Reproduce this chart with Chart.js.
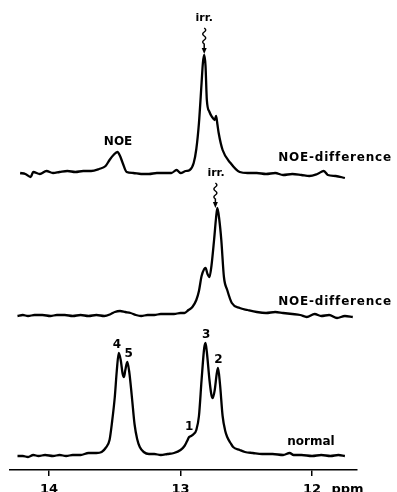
<!DOCTYPE html>
<html>
<head>
<meta charset="utf-8">
<script src="https://cdn.jsdelivr.net/npm/chart.js@4.4.0/dist/chart.umd.min.js"></script>
<style>
  html, body { margin: 0; padding: 0; background: #fff; overflow: hidden; }
  #wrap { width: 397px; height: 492px; }
</style>
</head>
<body>
<div id="wrap"><canvas id="chart"></canvas></div>
<script>
// chemical shift axis (ppm)
const tickValues = [14, 13, 12];

// normal spectrum
const normalPpm = [14.24, 14.20, 14.16, 14.12, 14.08, 14.03, 13.97, 13.92, 13.87, 13.82, 13.76, 13.70, 13.64, 13.60, 13.57, 13.54, 13.52, 13.50, 13.485, 13.47, 13.455, 13.44, 13.43, 13.42, 13.405, 13.39, 13.37, 13.35, 13.33, 13.31, 13.28, 13.24, 13.20, 13.15, 13.10, 13.05, 13.00, 12.97, 12.95, 12.935, 12.92, 12.90, 12.88, 12.86, 12.84, 12.82, 12.81, 12.80, 12.78, 12.765, 12.755, 12.74, 12.725, 12.715, 12.70, 12.68, 12.66, 12.645, 12.62, 12.60, 12.55, 12.51, 12.45, 12.38, 12.30, 12.22, 12.17, 12.14, 12.08, 12.00, 11.93, 11.86, 11.80, 11.75];
const normalInt = [0, 0, -1, 1, 0, 1, 0, 1, 0, 1, 1, 3, 3, 4, 8, 16, 35, 59, 85, 103, 96, 82, 79, 86, 94, 84, 59, 32, 17, 9, 4, 2, 2, 1, 2, 3, 6, 10, 15, 19, 20, 22, 26, 40, 76, 108, 113, 104, 76, 61, 58, 66, 82, 88, 72, 40, 25, 19, 13, 9, 6, 4, 3, 2, 2, 1, 3, 1, 1, 0, 1, 0, 1, 0];

// NOE-difference, irradiation of peak 2
const diff2Ppm = [14.24, 14.20, 14.16, 14.11, 14.05, 13.99, 13.94, 13.88, 13.82, 13.76, 13.70, 13.64, 13.58, 13.53, 13.50, 13.46, 13.42, 13.38, 13.34, 13.30, 13.25, 13.20, 13.15, 13.10, 13.05, 13.00, 12.97, 12.94, 12.91, 12.88, 12.86, 12.84, 12.82, 12.81, 12.795, 12.78, 12.765, 12.745, 12.73, 12.72, 12.705, 12.69, 12.67, 12.645, 12.61, 12.55, 12.49, 12.42, 12.35, 12.28, 12.22, 12.15, 12.09, 12.04, 11.98, 11.93, 11.87, 11.81, 11.75, 11.69];
const diff2Int = [0, 1, 0, 1, 1, 0, 1, 1, 0, 1, 0, 1, 0, 2, 4, 5, 4, 3, 1, 0, 1, 1, 2, 2, 2, 3, 3, 6, 9, 16, 25, 40, 47, 48, 42, 39, 50, 76, 98, 108, 96, 76, 39, 26, 13, 8, 6, 4, 3, 4, 3, 2, 1, -1, 2, 0, 1, -2, 0, -1];

// NOE-difference, irradiation of peak 3
const diff3Ppm = [14.22, 14.18, 14.14, 14.12, 14.07, 14.02, 13.97, 13.92, 13.86, 13.80, 13.74, 13.68, 13.62, 13.57, 13.54, 13.51, 13.48, 13.46, 13.44, 13.41, 13.36, 13.30, 13.24, 13.18, 13.12, 13.07, 13.03, 13.00, 12.96, 12.93, 12.90, 12.88, 12.86, 12.84, 12.83, 12.82, 12.81, 12.80, 12.78, 12.76, 12.74, 12.73, 12.72, 12.71, 12.68, 12.62, 12.55, 12.49, 12.42, 12.35, 12.28, 12.22, 12.15, 12.08, 12.02, 11.96, 11.91, 11.88, 11.82, 11.75];
const diff3Int = [1, 0, -3, 2, 0, 3, 1, 2, 3, 2, 3, 3, 5, 8, 14, 19, 22, 18, 11, 2, 1, 0, 0, 1, 1, 1, 4, 1, 3, 4, 11, 25, 51, 91, 111, 119, 108, 74, 62, 57, 54, 58, 50, 41, 24, 11, 2, 1, 1, 0, 1, -1, 0, -1, -2, 0, 3, -1, -2, -4];

// vertical stacking of the three traces
const baseNormal = 14, baseDiff2 = 154, baseDiff3 = 296;

const toPoints = (ppm, val, base) => ppm.map((p, i) => ({ x: p, y: val[i] + base }));

const FONT = '"DejaVu Sans", sans-serif';

// text drawn in data coordinates (ppm, height)
const labels = [
  { t: 'irr.', x: 12.82, y: 449, size: 11 },
  { t: 'NOE', x: 13.475, y: 325, size: 12 },
  { t: 'NOE-difference', x: 11.825, y: 309, size: 12, sp: 0.8 },
  { t: 'irr.', x: 12.73, y: 294, size: 11 },
  { t: 'NOE-difference', x: 11.825, y: 165, size: 12, sp: 0.8 },
  { t: '4', x: 13.483, y: 122, size: 12 },
  { t: '5', x: 13.395, y: 113, size: 12 },
  { t: '3', x: 12.806, y: 132, size: 12 },
  { t: '2', x: 12.711, y: 107, size: 12 },
  { t: '1', x: 12.935, y: 40, size: 12 },
  { t: 'normal', x: 12.008, y: 25, size: 12 }
];
const arrows = [
  { x: 12.82, top: 442, tip: 416 },
  { x: 12.735, top: 287, tip: 262 }
];

const textPlugin = {
  id: 'texts',
  afterDatasetsDraw(chart) {
    const ctx = chart.ctx;
    const xs = chart.scales.x, ys = chart.scales.y;
    ctx.save();
    ctx.fillStyle = '#000';
    ctx.textAlign = 'center';
    ctx.textBaseline = 'alphabetic';
    labels.forEach(l => {
      ctx.font = 'bold ' + l.size + 'px ' + FONT;
      ctx.letterSpacing = (l.sp || 0) + 'px';
      ctx.fillText(l.t, xs.getPixelForValue(l.x), ys.getPixelForValue(l.y));
    });
    ctx.letterSpacing = '0px';
    // wavy irradiation arrows
    ctx.strokeStyle = '#000';
    ctx.lineWidth = 1.5;
    arrows.forEach(a => {
      const px = xs.getPixelForValue(a.x);
      const y0 = ys.getPixelForValue(a.top);
      const y1 = ys.getPixelForValue(a.tip);
      const wavyEnd = y0 + (y1 - y0) * 0.7;
      ctx.beginPath();
      ctx.moveTo(px, y0);
      let y = y0, side = 1;
      while (y + 4 <= wavyEnd) {
        ctx.quadraticCurveTo(px + 3 * side, y + 2, px, y + 4);
        y += 4; side = -side;
      }
      ctx.lineTo(px, y1 - 4);
      ctx.stroke();
      ctx.beginPath();
      ctx.moveTo(px - 2.5, y1 - 6);
      ctx.lineTo(px + 2.5, y1 - 6);
      ctx.lineTo(px, y1);
      ctx.closePath();
      ctx.fill();
    });
    // unit label next to the tick labels
    ctx.font = 'bold 13px ' + FONT;
    ctx.textBaseline = 'top';
    ctx.fillText('ppm', xs.getPixelForValue(11.73), chart.chartArea.bottom + 13);
    ctx.restore();
  }
};

const lineStyle = {
  showLine: true,
  borderColor: '#000',
  borderWidth: 2.3,
  pointRadius: 0,
  cubicInterpolationMode: 'monotone',
  fill: false
};

new Chart(document.getElementById('chart').getContext('2d'), {
  type: 'scatter',
  data: {
    datasets: [
      { ...lineStyle, label: 'normal', data: toPoints(normalPpm, normalInt, baseNormal) },
      { ...lineStyle, label: 'NOE-difference (irr. 2)', data: toPoints(diff2Ppm, diff2Int, baseDiff2) },
      { ...lineStyle, label: 'NOE-difference (irr. 3)', data: toPoints(diff3Ppm, diff3Int, baseDiff3) }
    ]
  },
  options: {
    responsive: true,
    maintainAspectRatio: false,
    animation: false,
    layout: { padding: { left: 10, right: 40, top: 0, bottom: 0 } },
    plugins: { legend: { display: false }, tooltip: { enabled: false } },
    scales: {
      x: {
        type: 'linear',
        reverse: true,
        min: 11.658,
        max: 14.297,
        afterBuildTicks: (scale) => { scale.ticks = tickValues.map(v => ({ value: v })); },
        afterFit: (scale) => { scale.height = 22; },
        border: { display: true, color: '#000', width: 1.5 },
        grid: { drawOnChartArea: false, drawTicks: true, tickLength: 6, color: '#000', lineWidth: 1.5 },
        ticks: { color: '#000', font: { family: FONT, size: 13, weight: 'bold', lineHeight: 1 }, padding: 7, maxRotation: 0 }
      },
      y: { display: false, min: 0, max: 470 }
    }
  },
  plugins: [textPlugin]
});
</script>
</body>
</html>
